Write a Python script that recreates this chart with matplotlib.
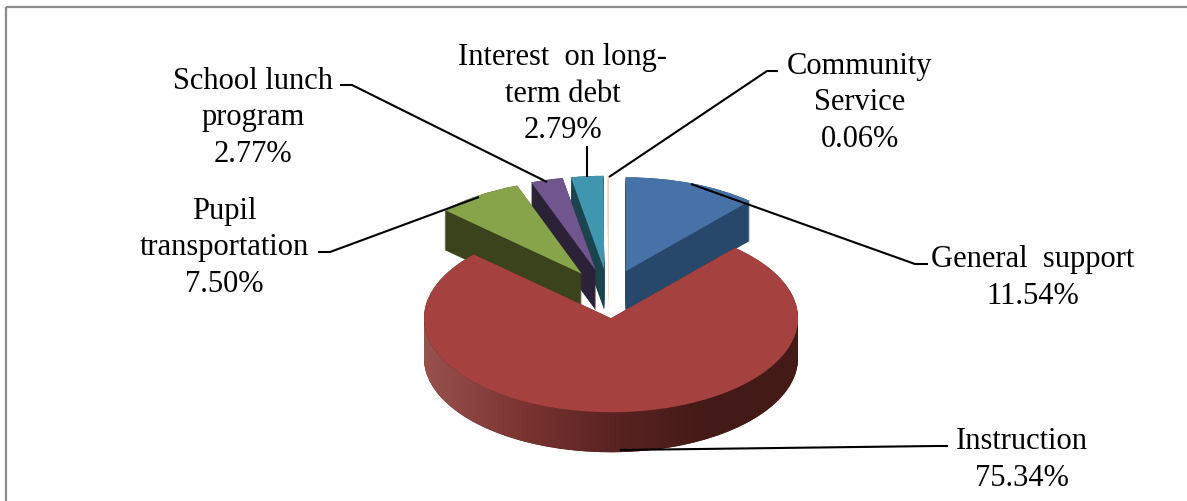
import matplotlib
matplotlib.use('Agg')
import matplotlib.pyplot as plt
import numpy as np
from matplotlib.colors import LinearSegmentedColormap
from matplotlib.patches import Polygon, Rectangle

labels = ['General  support', 'Instruction', 'Pupil\ntransportation', 'School lunch\nprogram',
          'Interest  on long-\nterm debt', 'Community\nService']
values = [11.54, 75.34, 7.50, 2.77, 2.79, 0.06]
top_colors = ['#4672a8', '#a5423f', '#87a44a', '#70558f', '#3f96ae', '#f3c8a5']
side_colors = ['#28486b', '#5a2422', '#3a431b', '#2b2238', '#1b444f', '#f3dfcf']
rim_colors = ['#98524e', '#7d3532', '#5a2422', '#431a17', '#451b17']
label_pos = [(1033, 278), (1022, 460), (224, 248), (253, 118), (563, 94), (860, 103)]
leaders = [[(691, 185), (915, 265), (928, 265)],
           [(620, 451), (936, 447), (948, 447)],
           [(479, 198), (330, 253), (318, 253)],
           [(547, 183), (352, 86), (340, 86)],
           [(587, 178), (587, 147)],
           [(609, 178), (767, 72), (778, 72)]]

W, H = 1187, 502
cx, cy = 608.6, 295  # pie centre in pixels
rx, ry = 187, 94  # squashed radius in pixels
depth = 40 / ry
explode = [0.258] * len(values)
INSTRUCTION = 1

fig = plt.figure(figsize=(W / 100, H / 100), dpi=100)
ax = fig.add_axes([0, 0, 1, 1])

# side walls, one thin pie per layer from the bottom up
for d in np.linspace(depth, 0, 41):
    wedges, _ = ax.pie(values, explode=explode, colors=side_colors, startangle=90,
                       counterclock=False, center=(0, -d), wedgeprops={'linewidth': 0})
    for i, w in enumerate(wedges):
        w.set_zorder(3 if i == INSTRUCTION else 1)

# top faces
wedges, _ = ax.pie(values, explode=explode, colors=top_colors, startangle=90,
                   counterclock=False, wedgeprops={'linewidth': 0})
for i, w in enumerate(wedges):
    w.set_zorder(5 if i == INSTRUCTION else 2)

# shaded rim of the big slice
ix, iy = wedges[INSTRUCTION].center
t = np.linspace(np.pi / 2, 3 * np.pi / 2, 200)
front = np.column_stack([ix + np.sin(t), iy + np.cos(t)])
back = front[::-1] - [0, depth]
rim = Polygon(np.vstack([front, back]), closed=True, transform=ax.transData, facecolor='none', linewidth=0)
cmap = LinearSegmentedColormap.from_list('rim', rim_colors)
ax.imshow(np.linspace(0, 1, 256).reshape(1, -1), cmap=cmap, aspect='auto', zorder=4,
          extent=(ix - 1, ix + 1, iy - 2, iy + 1), clip_path=rim)

ax.set_aspect('auto')
ax.set_xlim(-cx / rx, (W - cx) / rx)
ax.set_ylim((cy - H) / ry, cy / ry)
ax.axis('off')

# overlay in pixel coordinates for frame, leader lines and labels
over = fig.add_axes([0, 0, 1, 1])
over.set_xlim(0, W)
over.set_ylim(H, 0)
over.axis('off')
over.add_patch(Rectangle((6, 8), 1300, 600, facecolor='none', edgecolor='#8c8c8c', linewidth=1.6))

for pts in leaders:
    xs, ys = zip(*pts)
    over.plot(xs, ys, color='black', linewidth=1.5, solid_capstyle='butt')

for name, val, (x, y) in zip(labels, values, label_pos):
    over.text(x, y, f'{name}\n{val:.2f}%', ha='center', va='center', fontsize=22,
              family='Liberation Serif', linespacing=1.33, color='black')

fig.savefig('out.png', dpi=100)
